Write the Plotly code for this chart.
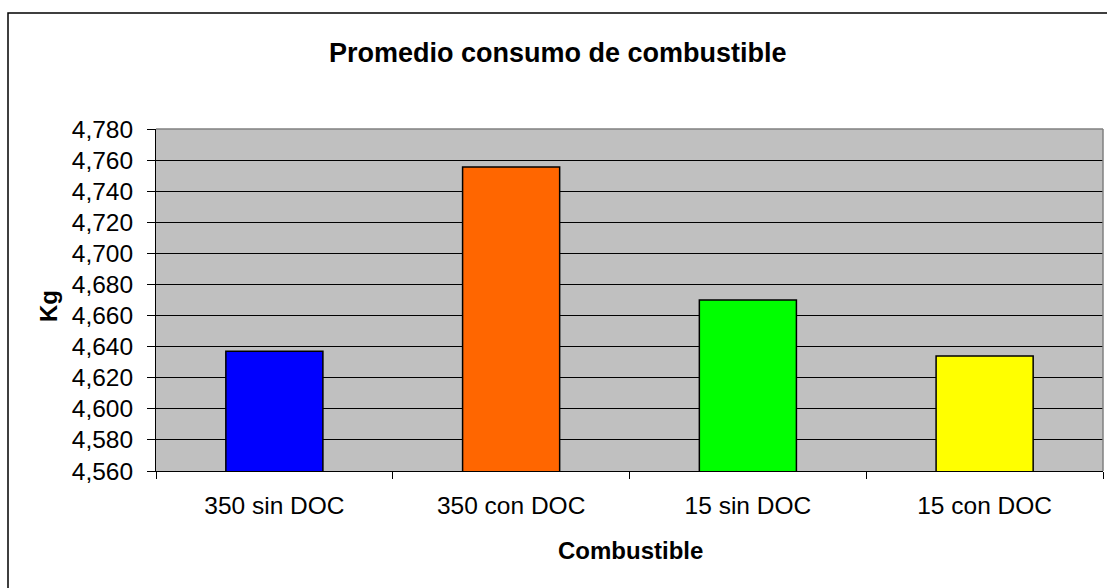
import plotly.graph_objects as go

# Fuel consumption averages per fuel type / DOC configuration
categories = ["350 sin DOC", "350 con DOC", "15 sin DOC", "15 con DOC"]
consumo_kg = [4.637, 4.7555, 4.670, 4.634]
bar_colors = ["#0000FF", "#FF6600", "#00FF00", "#FFFF00"]

W, H = 1107, 588
L, R, T, B = 156, 4, 129, 117  # plot margins in px
plot_w = W - L - R
plot_h = H - T - B


def px_x(x):
    return (x - L) / plot_w


def px_y(y):
    return (H - B - y) / plot_h


FONT = "Liberation Sans, Arial, sans-serif"

fig = go.Figure(
    go.Bar(
        x=categories,
        y=consumo_kg,
        marker=dict(color=bar_colors, line=dict(color="black", width=1.5)),
        width=0.41,
    )
)

fig.update_layout(
    width=W,
    height=H,
    margin=dict(l=L, r=R, t=T, b=B, pad=0),
    paper_bgcolor="white",
    plot_bgcolor="#C0C0C0",
    separators=",.",
    showlegend=False,
    font=dict(family=FONT, color="black"),
)

fig.update_yaxes(
    range=[4.56, 4.78],
    dtick=0.02,
    tickformat=".3f",
    showgrid=True,
    gridcolor="black",
    gridwidth=1,
    zeroline=False,
    showline=True,
    linecolor="black",
    linewidth=1,
    ticks="outside",
    ticklen=8,
    tickcolor="black",
    ticklabelstandoff=9,
    tickfont=dict(size=24.5, family=FONT, color="black"),
)

fig.update_xaxes(
    tickson="boundaries",
    showgrid=False,
    showline=True,
    linecolor="black",
    linewidth=1,
    ticks="outside",
    ticklen=7,
    tickcolor="black",
    ticklabelstandoff=13,
    tickfont=dict(size=24.5, family=FONT, color="black"),
)

# Plot-area frame (top and right) and outer chart border
fig.add_shape(type="line", xref="paper", yref="paper", x0=0, x1=1, y0=1, y1=1,
              line=dict(color="#808080", width=1.5), layer="above")
fig.add_shape(type="line", xref="paper", yref="paper", x0=1, x1=1, y0=0, y1=1,
              line=dict(color="#808080", width=1.5), layer="above")
fig.add_shape(type="rect", xref="paper", yref="paper",
              x0=px_x(8), x1=px_x(W + 10), y0=px_y(H + 10), y1=px_y(13),
              line=dict(color="black", width=1.5), layer="above")

fig.add_annotation(text="<b>Promedio consumo de combustible</b>", xref="paper", yref="paper",
                   x=px_x(558), y=px_y(53), xanchor="center", yanchor="middle",
                   showarrow=False, font=dict(size=27, family=FONT, color="black"))
fig.add_annotation(text="<b>Kg</b>", xref="paper", yref="paper",
                   x=px_x(48), y=px_y(306), xanchor="center", yanchor="middle",
                   showarrow=False, textangle=-90,
                   font=dict(size=24, family=FONT, color="black"))
fig.add_annotation(text="<b>Combustible</b>", xref="paper", yref="paper",
                   x=px_x(630), y=px_y(550), xanchor="center", yanchor="middle",
                   showarrow=False, font=dict(size=24, family=FONT, color="black"))

fig.write_html("out.html")
